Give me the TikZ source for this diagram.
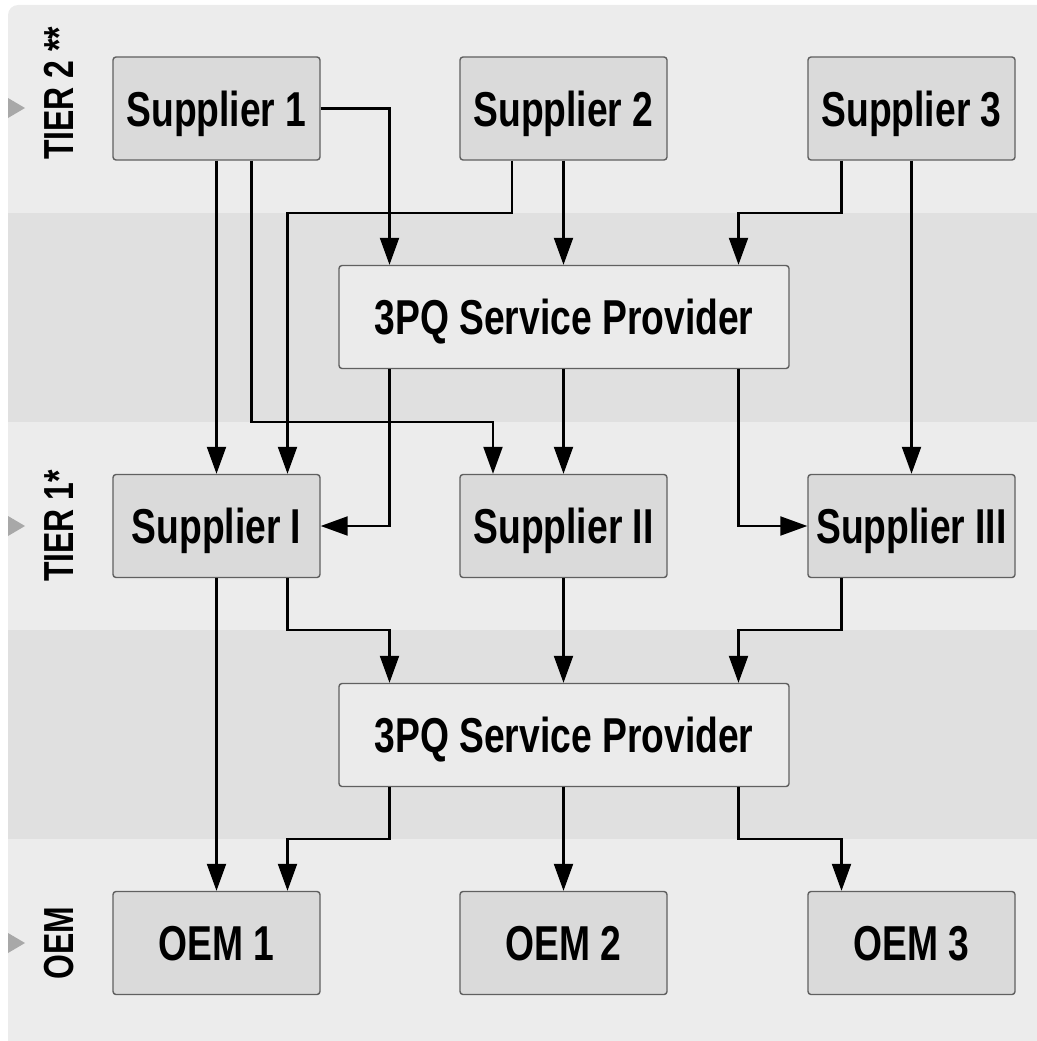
\documentclass[tikz,border=0pt]{standalone}
\usepackage{fontspec}
\setmainfont{Liberation Sans}[FakeStretch=0.76]
\usetikzlibrary{arrows.meta}

\definecolor{bandlight}{HTML}{ECECEC}
\definecolor{banddark}{HTML}{E0E0E0}
\definecolor{boxfill}{HTML}{DADADA}
\definecolor{hubfill}{HTML}{EBEBEB}
\definecolor{boxline}{HTML}{606060}
\definecolor{pointergray}{HTML}{A8A8A8}

\tikzset{
  box/.style={draw=boxline, line width=1.4pt, rounded corners=3pt, fill=boxfill,
    minimum width=207pt, minimum height=103pt, inner sep=0pt,
    text height=35pt, text depth=0pt,
    font=\fontsize{49}{49}\selectfont\bfseries},
  hub/.style={box, fill=hubfill, minimum width=450pt},
  link/.style={line width=2.1pt, -{Triangle[length=27pt,width=19pt]}},
  tierlabel/.style={rotate=90, anchor=base west, inner sep=0pt,
    font=\fontsize{42}{42}\selectfont\bfseries},
  pointer/.style={fill=pointergray}
}

\begin{document}
\begin{tikzpicture}[x=1pt,y=-1pt]
  \useasboundingbox (0,0) rectangle (1036,1041);

  % background panel with horizontal bands
  \begin{scope}
    \clip[rounded corners=10pt] (8,5) rectangle (1080,1080);
    \fill[bandlight] (0,0) rectangle (1080,1080);
    \fill[banddark] (0,213) rectangle (1080,422);
    \fill[banddark] (0,630) rectangle (1080,839);
  \end{scope}

  % column and row guides for the connectors
  \coordinate (cA) at (216.5,0);
  \coordinate (cB) at (251.5,0);
  \coordinate (cC) at (287.5,0);
  \coordinate (cD) at (389.5,0);
  \coordinate (cE) at (493,0);
  \coordinate (cF) at (512,0);
  \coordinate (cG) at (563.5,0);
  \coordinate (cH) at (738.5,0);
  \coordinate (cI) at (841.5,0);
  \coordinate (cJ) at (911.5,0);
  \coordinate (rA) at (0,213);
  \coordinate (rB) at (0,422);
  \coordinate (rC) at (0,630);
  \coordinate (rD) at (0,839);

  % tier labels
  \fill[pointer] (8,98) -- (25,108) -- (8,118) -- cycle;
  \fill[pointer] (8,516) -- (25,526) -- (8,536) -- cycle;
  \fill[pointer] (8,933) -- (25,943) -- (8,953) -- cycle;
  \node[tierlabel] (t2) at (73,160) {TIER 2 **};
  \node[tierlabel] (t1) at (73,582) {TIER 1*};
  \node[tierlabel] (toem) at (73,980) {OEM};

  % nodes
  \node[box] (s1) at (216.5,108.5) {Supplier 1};
  \node[box] (s2) at (563.5,108.5) {Supplier 2};
  \node[box] (s3) at (911.5,108.5) {Supplier 3};
  \node[hub] (p1) at (564,317) {3PQ Service Provider};
  \node[box] (sI) at (216.5,526) {Supplier I};
  \node[box] (sII) at (563.5,526) {Supplier II};
  \node[box] (sIII) at (911.5,526) {Supplier III};
  \node[hub] (p2) at (564,735) {3PQ Service Provider};
  \node[box] (o1) at (216.5,943) {OEM 1};
  \node[box] (o2) at (563.5,943) {OEM 2};
  \node[box] (o3) at (911.5,943) {OEM 3};

  % tier 2 -> provider / tier 1
  \draw[link] (s1.east) -| (p1.north -| cD);
  \draw[link] (s2.south -| cG) -- (p1.north -| cG);
  \draw[link] (s3.south -| cI) |- (cH |- rA) -- (p1.north -| cH);
  \draw[link] (s2.south -| cF) |- (cC |- rA) -- (sI.north -| cC);
  \draw[link] (s1.south -| cA) -- (sI.north -| cA);
  \draw[link] (s1.south -| cB) |- (cE |- rB) -- (sII.north -| cE);
  \draw[link] (s3.south -| cJ) -- (sIII.north -| cJ);

  % provider -> tier 1
  \draw[link] (p1.south -| cD) |- (sI.east);
  \draw[link] (p1.south -| cG) -- (sII.north -| cG);
  \draw[link] (p1.south -| cH) |- (sIII.west);

  % tier 1 -> provider / OEM
  \draw[link] (sI.south -| cC) |- (cD |- rC) -- (p2.north -| cD);
  \draw[link] (sII.south -| cG) -- (p2.north -| cG);
  \draw[link] (sIII.south -| cI) |- (cH |- rC) -- (p2.north -| cH);
  \draw[link] (sI.south -| cA) -- (o1.north -| cA);

  % provider -> OEM
  \draw[link] (p2.south -| cD) |- (cC |- rD) -- (o1.north -| cC);
  \draw[link] (p2.south -| cG) -- (o2.north -| cG);
  \draw[link] (p2.south -| cH) |- (cI |- rD) -- (o3.north -| cI);
\end{tikzpicture}
\end{document}
